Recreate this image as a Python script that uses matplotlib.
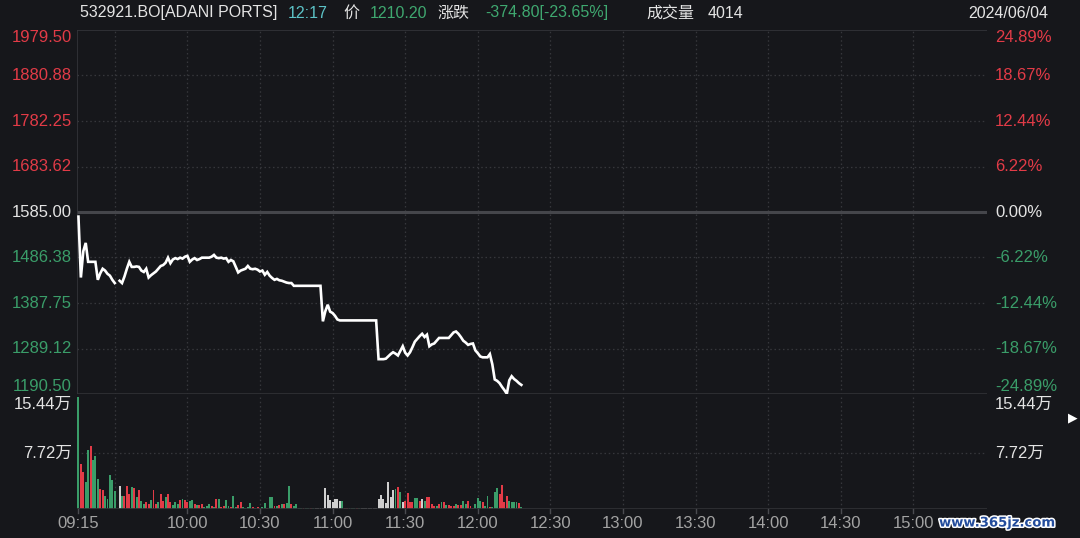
import numpy as np
import matplotlib
matplotlib.use("Agg")
import matplotlib.pyplot as plt
import matplotlib.patheffects as pe

plt.rcParams['font.family'] = ['Liberation Sans', 'Noto Sans CJK SC', 'DejaVu Sans']

# ---------------- data ----------------
nan = np.nan
price = [
    1575, 1443, 1500, 1518, 1477, 1477, 1477, 1477, 1438, 1452,
    1462, 1458, 1451, 1447, 1438, 1431, nan, 1436, 1431, 1445,
    1462, 1477, 1466, 1466, 1467, 1466, 1458, 1455, 1462, 1443,
    1448, 1452, 1456, 1462, 1468, 1470, 1475, 1486, 1474, 1482,
    1485, 1483, 1486, 1484, 1488, 1490, 1477, 1482, 1485, 1481,
    1483, 1486, 1486, 1486, 1486, 1488, 1492, 1486, 1485, 1486,
    1484, 1485, 1477, 1481, 1478, 1466, 1454, 1458, 1460, 1462,
    1468, 1462, 1461, 1462, 1460, 1456, 1458, 1449, 1455, 1447,
    1442, 1438, 1440, 1437, 1436, 1434, 1432, 1431, 1431, 1425,
    1425, 1425, 1425, 1425, 1425, 1425, 1425, 1425, 1425, 1425,
    1425, 1348, 1370, 1384, 1369, 1366, 1360, 1352, 1350, 1350,
    1350, 1350, 1350, 1350, 1350, 1350, 1350, 1350, 1350, 1350,
    1350, 1350, 1350, 1350, 1266, 1266, 1266, 1267, 1272, 1277,
    1281, 1278, 1274, 1284, 1294, 1280, 1274, 1281, 1292, 1304,
    1310, 1316, 1321, 1314, 1319, 1294, 1298, 1300, 1306, 1312,
    1312, 1312, 1312, 1312, 1318, 1324, 1326, 1321, 1314, 1306,
    1302, 1297, 1299, 1300, 1285, 1279, 1272, 1270, 1270, 1270,
    1277, 1255, 1222, 1219, 1214, 1206, 1199, 1191, 1220, 1229,
    1223, 1219, 1214, 1210.2,
]

volume = [
    154400, 62000, 51400, 37600, 81300, 87300, 67500, 73500, 41400, 27600,
    26200, 18400, 13300, 46400, 40000, 24800, 0, 31700, 17900, 17900,
    31700, 20700, 30300, 28500, 17000, 25700, 11000, 6400, 10100, 6900,
    12400, 25700, 6400, 10100, 20700, 11000, 17000, 20700, 10100, 5300,
    10100, 6900, 11900, 14200, 12400, 9200, 11000, 12400, 6400, 5300,
    5300, 6400, 3000, 4100, 6400, 3700, 3000, 13800, 13300, 3000,
    4100, 12000, 3700, 2300, 17900, 3000, 5300, 9700, 2300, 1800,
    3000, 8300, 2300, 1800, 3000, 1400, 2300, 8300, 900, 16500,
    16500, 4100, 3700, 5000, 6400, 6900, 8300, 31700, 6400, 4100,
    6400, 1100, 1000, 1200, 900, 1000, 1300, 1000, 900, 1100,
    1000, 1200, 28500, 19300, 12400, 10100, 13300, 13800, 11000, 11000,
    1000, 1200, 900, 1000, 1100, 1000, 1300, 900, 1000, 1100,
    1000, 1200, 1000, 1100, 13800, 19300, 13300, 8700, 36800, 16100,
    26200, 27600, 30800, 23000, 10100, 11000, 22500, 9200, 9200, 14700,
    14700, 11000, 13800, 11000, 16100, 16100, 6400, 3700, 3700, 6400,
    10100, 10100, 5300, 5300, 4100, 4100, 6900, 5300, 5300, 11000,
    6400, 11000, 3700, 1400, 6400, 15600, 11000, 10100, 3700, 17900,
    3000, 3000, 23900, 29400, 20200, 33100, 10100, 17900, 11000, 10100,
    9200, 9200, 8300, 2300,
]

vol_dir = (
    "grrggrgggr" "rggggg" "wwgrrrgrgr"
    "ggrrgrrgrr" "grrgggrgrr" "ggrgrrgggr"
    "grgrrggrgg" "rrggggrgrr" "ggrggrgrgr"
    "ggrggggrgg" "rg" "wwwwwwwwwww"
    "grrgggrg" "wwwwwwwwwwwwww"
    "grgwrrrrggrwgrrrrgrgrgrrrgrrggrrrgggrggrgggrrrrggggrgrrrrg"
)

prev_close = 1585.00
price_ticks = ["1979.50", "1880.88", "1782.25", "1683.62", "1585.00",
               "1486.38", "1387.75", "1289.12", "1190.50"]
pct_ticks = ["24.89%", "18.67%", "12.44%", "6.22%", "0.00%",
             "-6.22%", "-12.44%", "-18.67%", "-24.89%"]
vol_ticks = [154400, 77200]
vol_labels = ["15.44万", "7.72万"]
time_labels = ["09:15", "10:00", "10:30", "11:00", "11:30", "12:00",
               "12:30", "13:00", "13:30", "14:00", "14:30", "15:00"]
grid_times = ["09:30", "10:00", "10:30", "11:00", "11:30", "12:00",
              "12:30", "13:00", "13:30", "14:00", "14:30", "15:00"]

header = [
    ("532921.BO[ADANI PORTS]", "w"),
    ("12:17", "c"),
    ("价", "w"),
    ("1210.20", "g"),
    ("涨跌", "w"),
    ("-374.80[-23.65%]", "g"),
    ("成交量", "w"),
    ("4014", "w"),
]
date_label = "2024/06/04"

# ---------------- style ----------------
BG = "#16171b"
RED = "#e23b47"
GREEN = "#3a9d69"
TXT = "#e4e4e4"
CYAN = "#5cc2c6"
GRID = "#36373c"
AXLINE = "#34353a"
col_map = {"r": RED, "g": GREEN, "w": "#cfcfcf", "c": CYAN}
txt_map = {"w": TXT, "g": "#3fa870", "c": CYAN}


def tmin(s):
    h, m = s.split(":")
    return (int(h) * 60 + int(m)) - (9 * 60 + 15)


W, H = 1080, 538
fig = plt.figure(figsize=(W / 100, H / 100), dpi=100, facecolor=BG)

x0, x1 = 77, 987
ax_p = fig.add_axes([x0 / W, 1 - 394 / H, (x1 - x0) / W, (394 - 30) / H])
ax_v = fig.add_axes([x0 / W, 1 - 509 / H, (x1 - x0) / W, (509 - 397) / H])

xmin, xmax = -0.6, 375.4
pvals = [float(v) for v in price_ticks]
for ax in (ax_p, ax_v):
    ax.set_facecolor(BG)
    ax.set_xlim(xmin, xmax)
    ax.set_xticks([])
    ax.set_yticks([])
    for s in ax.spines.values():
        s.set_visible(False)
    for t in grid_times:
        ax.axvline(tmin(t), color=GRID, lw=0.9, ls=(0, (1.2, 2.2)), zorder=0)

ax_p.set_ylim(pvals[-1], pvals[0])
ax_v.set_ylim(0, vol_ticks[0])

# borders
ax_p.axhline(pvals[0], color=AXLINE, lw=1.2, zorder=1)
ax_p.axhline(pvals[-1], color="#2f3034", lw=2.0, zorder=1)
ax_p.axvline(xmin, color=AXLINE, lw=1.2)
ax_v.axvline(xmin, color=AXLINE, lw=1.2)
ax_v.axhline(0, color="#2f3034", lw=2.0, zorder=3)

# price gridlines
for v in pvals[1:-1]:
    if abs(v - prev_close) < 1e-6:
        ax_p.axhline(v, color="#45464b", lw=2.2, zorder=1)
    else:
        ax_p.axhline(v, color=GRID, lw=0.9, ls=(0, (1.2, 2.2)), zorder=0)
ax_v.axhline(vol_ticks[1], color=GRID, lw=0.9, ls=(0, (1.2, 2.2)), zorder=0)

# price line
mins = np.arange(len(price))
ax_p.plot(mins, price, color="white", lw=1.9, solid_joinstyle="miter", zorder=4)

# volume bars
ax_v.bar(np.arange(len(volume)), volume, width=0.8,
         color=[col_map[c] for c in vol_dir], linewidth=0, zorder=2)

# y labels
trans_p = ax_p.get_yaxis_transform()
lx = -5 / (x1 - x0)
rx = 1 + (995 - x1) / (x1 - x0)
n = len(price_ticks)
for i, (pl, cl) in enumerate(zip(price_ticks, pct_ticks)):
    v = float(pl)
    c = RED if v > prev_close + 1e-6 else (GREEN if v < prev_close - 1e-6 else TXT)
    va = "top" if i == 0 else ("bottom" if i == n - 1 else "center")
    ax_p.text(lx, v, pl, transform=trans_p, ha="right", va=va, color=c, fontsize=12)
    ax_p.text(rx, v, cl, transform=trans_p, ha="left", va=va, color=c, fontsize=12)

trans_v = ax_v.get_yaxis_transform()
for i, (v, lab) in enumerate(zip(vol_ticks, vol_labels)):
    va = "top" if i == 0 else "center"
    ax_v.text(lx, v, lab, transform=trans_v, ha="right", va=va, color=TXT, fontsize=12)
    ax_v.text(rx, v, lab, transform=trans_v, ha="left", va=va, color=TXT, fontsize=12)

# x labels
trans_x = ax_v.get_xaxis_transform()
for t in time_labels:
    ax_v.text(tmin(t), -14 / 112, t, transform=trans_x, ha="center", va="center",
              color="#a3a3a3", fontsize=12, clip_on=False)
    ax_v.plot([tmin(t), tmin(t)], [-0.0, -4 / 112], transform=trans_x, color="#4a4b50",
              lw=1, clip_on=False)

# header
hx = [80, 288, 343, 370, 437, 485, 646, 708]
for (s, c), xp in zip(header, hx):
    fig.text(xp / W, 1 - 13 / H, s, color=txt_map[c], fontsize=11.5, ha="left", va="center")
fig.text(1048 / W, 1 - 13 / H, date_label, color=TXT, fontsize=11.5, ha="right", va="center")

# misc right-edge marker & watermark
fig.text(1073 / W, 1 - 418 / H, "▶", color="white", fontsize=9, ha="center", va="center",
         family="DejaVu Sans")
fig.text(1056 / W, 1 - 523 / H, "www.365jz.com", color="#234c9c", fontsize=9.5,
         fontweight="bold", ha="right", va="center", family="DejaVu Sans",
         path_effects=[pe.withStroke(linewidth=2.2, foreground="white")])

fig.savefig("out.png", dpi=100, facecolor=BG)
